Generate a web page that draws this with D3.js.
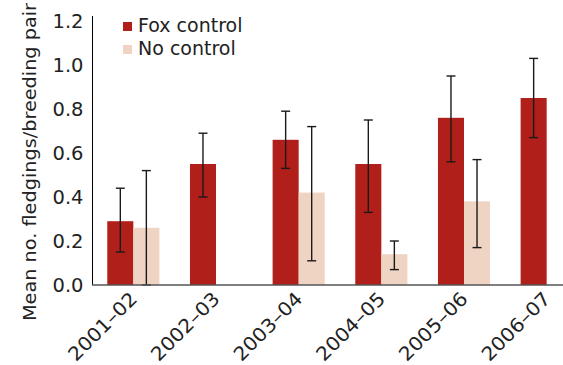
<!DOCTYPE html>
<html>
<head>
<meta charset="utf-8">
<script src="https://cdn.jsdelivr.net/npm/d3@7"></script>
<style>
  body { margin: 0; background: #fff; }
  svg text { font-family: "DejaVu Sans", sans-serif; fill: #222; }
</style>
</head>
<body>
<svg id="chart"></svg>
<script>
// seasons and series
const seasons = ['2001–02', '2002–03', '2003–04', '2004–05', '2005–06', '2006–07'];
const seriesNames = ['Fox control', 'No control'];
const foxMean = [0.29, 0.55, 0.66, 0.55, 0.76, 0.85];
const foxLow = [0.15, 0.40, 0.53, 0.33, 0.56, 0.67];
const foxHigh = [0.44, 0.69, 0.79, 0.75, 0.95, 1.03];
const noMean = [0.26, null, 0.42, 0.14, 0.38, null];
const noLow = [0.0, null, 0.11, 0.07, 0.17, null];
const noHigh = [0.52, null, 0.72, 0.20, 0.57, null];
const yTicks = [0, 0.2, 0.4, 0.6, 0.8, 1.0, 1.2];
const colors = ['#b01f19', '#efd3c3'];

const config = {
  width: 563, height: 365
};

const svg = d3.select('#chart')
  .attr('width', config.width)
  .attr('height', config.height);

const x = d3.scaleBand()
  .domain(seasons)
  .range([92, 588])
  .paddingInner(0.37)
  .paddingOuter(0.185);

const xSub = d3.scaleBand()
  .domain(seriesNames)
  .range([0, x.bandwidth()]);

const y = d3.scaleLinear()
  .domain([0, 1.2])
  .range([285, 21]);

// flatten to rows
const rows = [];
seasons.forEach((s, i) => {
  rows.push({ season: s, series: seriesNames[0], mean: foxMean[i], lo: foxLow[i], hi: foxHigh[i] });
  if (noMean[i] != null) {
    rows.push({ season: s, series: seriesNames[1], mean: noMean[i], lo: noLow[i], hi: noHigh[i] });
  }
});

const color = d3.scaleOrdinal().domain(seriesNames).range(colors);

// bars
svg.selectAll('.bar')
  .data(rows)
  .join('rect')
  .attr('class', 'bar')
  .attr('x', d => x(d.season) + xSub(d.series))
  .attr('width', xSub.bandwidth())
  .attr('y', d => y(d.mean))
  .attr('height', d => y(0) - y(d.mean))
  .attr('fill', d => color(d.series));

// error bars
const capW = 9;
const err = svg.selectAll('.err')
  .data(rows)
  .join('g')
  .attr('class', 'err')
  .attr('transform', d => `translate(${x(d.season) + xSub(d.series) + xSub.bandwidth() / 2},0)`)
  .attr('stroke', '#1a1a1a')
  .attr('stroke-width', 1.4);

err.append('line')
  .attr('y1', d => y(d.lo)).attr('y2', d => y(d.hi));
err.append('line')
  .attr('x1', -capW / 2).attr('x2', capW / 2)
  .attr('y1', d => y(d.hi)).attr('y2', d => y(d.hi));
err.append('line')
  .attr('x1', -capW / 2).attr('x2', capW / 2)
  .attr('y1', d => y(d.lo)).attr('y2', d => y(d.lo));

// y axis
const yAxisG = svg.append('g')
  .attr('transform', 'translate(92.5,0)')
  .call(d3.axisLeft(y).tickValues(yTicks).tickFormat(d3.format('.1f')).tickSize(0).tickPadding(9));
yAxisG.select('.domain').attr('stroke', '#000').attr('stroke-width', 1).attr('d', `M0,16V${y(0)}`);
yAxisG.selectAll('text')
  .style('font-size', '19px')
  .attr('textLength', 31)
  .attr('lengthAdjust', 'spacingAndGlyphs')
  .attr('fill', '#222');

// x axis
const xAxisG = svg.append('g')
  .attr('transform', `translate(0,${y(0)})`)
  .call(d3.axisBottom(x).tickSize(0).tickPadding(0));
xAxisG.select('.domain').attr('stroke', '#555').attr('stroke-width', 1.6).attr('d', `M92,0H${config.width}`);
xAxisG.selectAll('text')
  .style('font-size', '19px')
  .attr('text-anchor', 'end')
  .attr('dy', 0)
  .attr('textLength', 88)
  .attr('lengthAdjust', 'spacingAndGlyphs')
  .attr('transform', 'translate(5,15) rotate(-45)');

// y title
svg.append('text')
  .attr('transform', `translate(36,${162}) rotate(-90)`)
  .attr('text-anchor', 'middle')
  .style('font-size', '18px')
  .attr('textLength', 318)
  .attr('lengthAdjust', 'spacingAndGlyphs')
  .text('Mean no. fledgings/breeding pair');

// legend
const legend = svg.selectAll('.legend')
  .data(seriesNames)
  .join('g')
  .attr('class', 'legend')
  .attr('transform', (d, i) => `translate(123,${22 + i * 23})`);
legend.append('rect')
  .attr('width', 9).attr('height', 9)
  .attr('fill', d => color(d));
legend.append('text')
  .attr('x', 15).attr('y', 10)
  .style('font-size', '19px')
  .text(d => d);
</script>
</body>
</html>
